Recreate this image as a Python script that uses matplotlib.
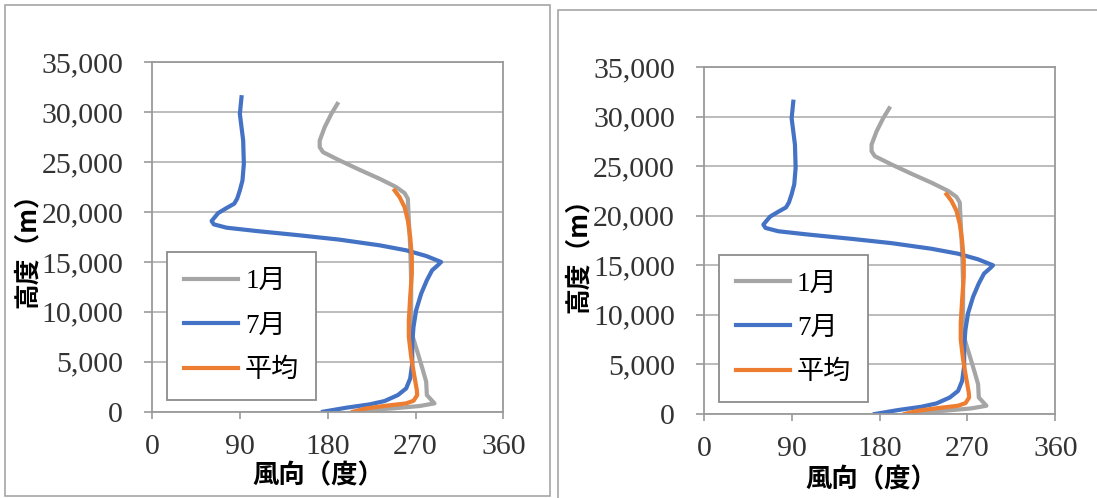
import matplotlib
matplotlib.use("Agg")
import matplotlib.pyplot as plt
import matplotlib.patches as patches

plt.rcParams['font.family'] = ['Liberation Serif', 'Noto Sans CJK JP']

# wind direction (deg) vs height (m)
jan_dir = [189.8, 183.6, 176.8, 171.7, 171.7, 175.1, 192.2, 212.6, 233.1, 250.2,
           258.7, 262.1, 262.8, 264.5, 265.5, 265.5, 267.2, 272.4, 277.5, 280.9,
           281.6, 289.4, 274.0, 246.8, 219.5, 215.0]
jan_h = [30833, 29833, 28500, 27167, 26500, 26000, 25167, 24233, 23333, 22500,
         21900, 21333, 19833, 16500, 13167, 9833, 7500, 5833, 4167, 3000,
         1667, 833, 567, 333, 167, 0]

jul_dir = [91.5, 89.8, 91.5, 93.2, 93.9, 92.5, 89.8, 87.0, 84.0, 76.1,
           67.6, 60.8, 63.1, 76.1, 106.8, 151.2, 192.2, 233.1, 260.4, 280.9,
           296.2, 292.8, 287.0, 281.6, 275.8, 270.6, 267.9, 266.6, 266.6, 264.5,
           260.4, 251.9, 238.2, 222.9, 199.0, 175.1]
jul_h = [31500, 29833, 28500, 27167, 24833, 23167, 22167, 21333, 20833, 20400,
         19900, 19100, 18767, 18433, 18100, 17667, 17233, 16667, 16167, 15600,
         15000, 14667, 14167, 13167, 11833, 10167, 8500, 6833, 4833, 3333,
         2333, 1667, 1067, 733, 400, 0]

avg_dir = [248.5, 253.6, 258.7, 262.1, 264.5, 266.2, 266.2, 264.5, 263.1, 263.1,
           265.5, 268.3, 271.3, 271.7, 268.0, 260.4, 240.0, 219.5, 205.8]
avg_h = [22167, 21500, 20500, 19167, 17500, 15500, 13833, 11500, 9167, 7500,
         5500, 3833, 2167, 1667, 1100, 833, 600, 333, 0]

x_ticks = [0, 90, 180, 270, 360]
y_ticks = [0, 5000, 10000, 15000, 20000, 25000, 30000, 35000]

W, H = 1097, 498
fig = plt.figure(figsize=(W / 100, H / 100), dpi=100)


def px(x0, y_top, x1, y_bot):
    return [x0 / W, (H - y_bot) / H, (x1 - x0) / W, (y_bot - y_top) / H]


def draw(ax, ylab_x, ylab_y, xlab_x, xlab_y):
    ax.plot(jan_dir, jan_h, color='#A5A5A5', lw=3, label='1月', solid_joinstyle='round')
    ax.plot(jul_dir, jul_h, color='#4472C4', lw=3, label='7月', solid_joinstyle='round')
    ax.plot(avg_dir, avg_h, color='#ED7D31', lw=3, label='平均', solid_joinstyle='round')
    ax.set_xlim(0, 360)
    ax.set_ylim(0, 35000)
    ax.set_xticks(x_ticks)
    ax.set_yticks(y_ticks)
    ax.set_yticklabels(['{:,}'.format(v) for v in y_ticks])
    ax.grid(axis='y', color='#B0B0B0', lw=1.2)
    ax.set_axisbelow(True)
    for s in ax.spines.values():
        s.set_color('#9A9A9A')
        s.set_linewidth(1.3)
    ax.tick_params(axis='y', length=6, width=1.2, color='#9A9A9A', pad=15,
                   labelsize=21.5, labelcolor='#333333')
    ax.tick_params(axis='x', length=5, width=1.2, color='#9A9A9A', pad=11,
                   labelsize=21.5, labelcolor='#333333')
    ax.set_xlabel('風向（度）', family=['Noto Sans CJK JP'], weight='bold', fontsize=19)
    ax.set_ylabel('高度（m）', family=['Noto Sans CJK JP'], weight='bold', fontsize=18.5)
    ax.yaxis.set_label_coords(ylab_x, ylab_y)
    ax.xaxis.set_label_coords(xlab_x, xlab_y)
    leg = ax.legend(loc='lower left', bbox_to_anchor=(0.043, 0.034), borderaxespad=0,
                    fontsize=19.5, handlelength=2.0, handletextpad=0.25, labelspacing=0.72,
                    borderpad=0.62, fancybox=False, framealpha=1, edgecolor='#8C8C8C')
    leg.get_frame().set_linewidth(1.3)


ax1 = fig.add_axes(px(152.3, 62.3, 503.3, 411.7))
draw(ax1, -0.317, 0.48, 0.472, -0.145)

ax2 = fig.add_axes(px(704, 67, 1055.3, 414))
draw(ax2, -0.319, 0.475, 0.477, -0.15)

# panel borders
fig.add_artist(patches.Rectangle((5 / W, (H - 496) / H), 545 / W, 491 / H,
                                 transform=fig.transFigure, fill=False,
                                 edgecolor='#A6A6A6', lw=1.2))
fig.add_artist(patches.Rectangle((558 / W, -5 / H), 560 / W, 493 / H,
                                 transform=fig.transFigure, fill=False,
                                 edgecolor='#A6A6A6', lw=1.2))

fig.savefig('out.png', dpi=100)
